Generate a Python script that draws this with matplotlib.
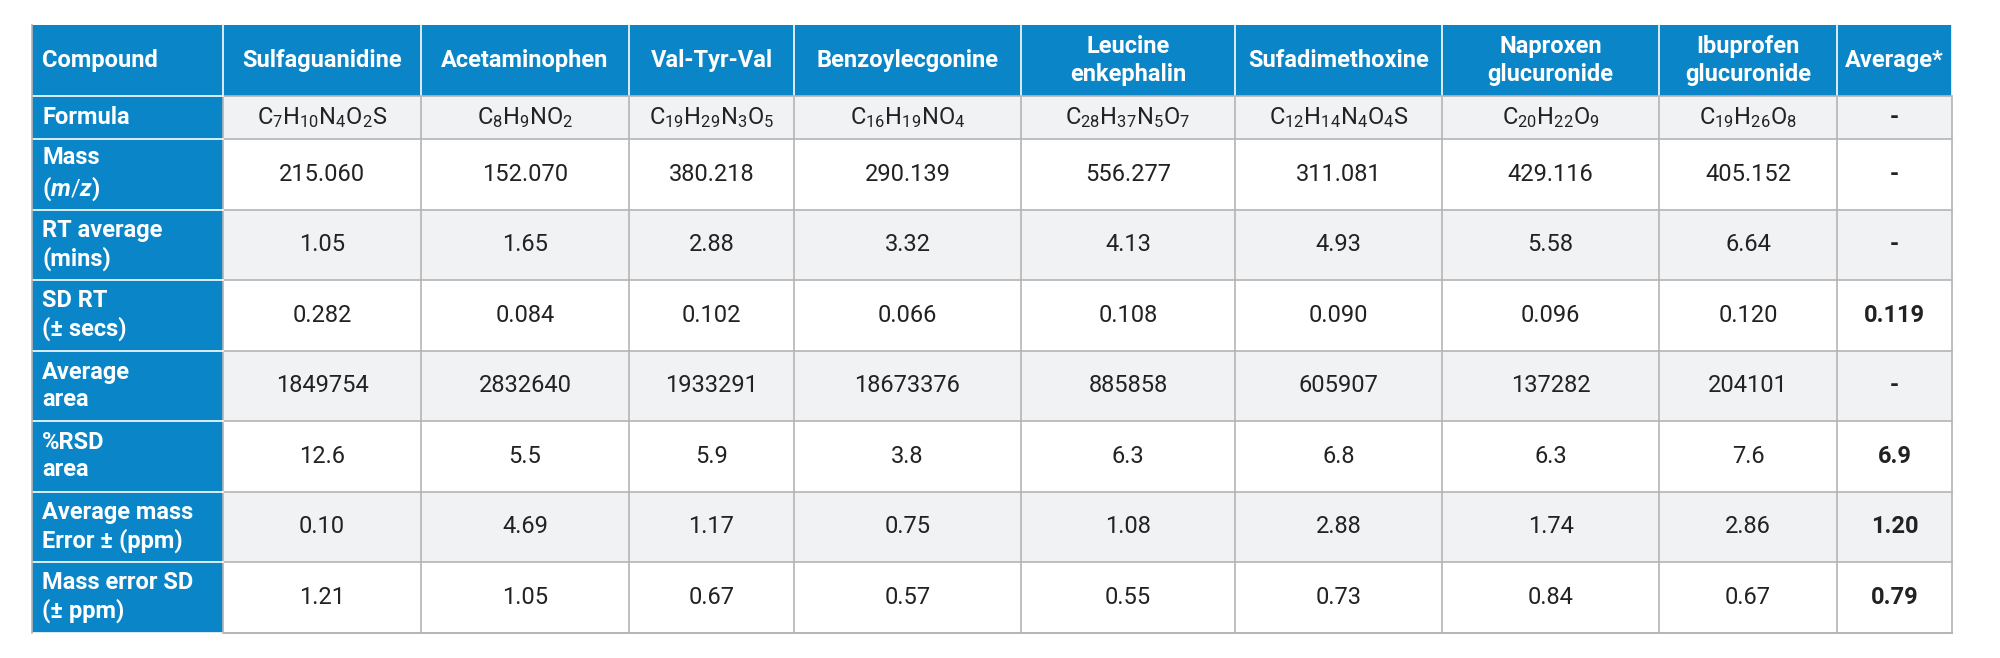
import matplotlib
matplotlib.use("Agg")
import matplotlib.pyplot as plt
from matplotlib.patches import Rectangle

plt.rcParams['font.family'] = ['Roboto', 'DejaVu Sans']
plt.rcParams['mathtext.fontset'] = 'custom'
plt.rcParams['mathtext.rm'] = 'Roboto'
plt.rcParams['mathtext.it'] = 'Roboto:italic:bold'

# Table data
compounds = ["Sulfaguanidine", "Acetaminophen", "Val-Tyr-Val", "Benzoylecgonine",
             "Leucine\nenkephalin", "Sufadimethoxine", "Naproxen\nglucuronide",
             "Ibuprofen\nglucuronide"]
row_labels = ["Formula", "Mass\n($\\mathit{m/z}$)", "RT average\n(mins)", "SD RT\n(± secs)",
              "Average\narea", "%RSD\narea", "Average mass\nError ± (ppm)",
              "Mass error SD\n(± ppm)"]
formulas = ["C_7H_{10}N_4O_2S", "C_8H_9NO_2", "C_{19}H_{29}N_3O_5", "C_{16}H_{19}NO_4",
            "C_{28}H_{37}N_5O_7", "C_{12}H_{14}N_4O_4S", "C_{20}H_{22}O_9", "C_{19}H_{26}O_8"]
mass = ["215.060", "152.070", "380.218", "290.139", "556.277", "311.081", "429.116", "405.152"]
rt_avg = ["1.05", "1.65", "2.88", "3.32", "4.13", "4.93", "5.58", "6.64"]
sd_rt = ["0.282", "0.084", "0.102", "0.066", "0.108", "0.090", "0.096", "0.120"]
avg_area = ["1849754", "2832640", "1933291", "18673376", "885858", "605907", "137282", "204101"]
rsd_area = ["12.6", "5.5", "5.9", "3.8", "6.3", "6.8", "6.3", "7.6"]
mass_err = ["0.10", "4.69", "1.17", "0.75", "1.08", "2.88", "1.74", "2.86"]
mass_err_sd = ["1.21", "1.05", "0.67", "0.57", "0.55", "0.73", "0.84", "0.67"]
averages = ["-", "-", "-", "0.119", "-", "6.9", "1.20", "0.79"]

rows = [["$\\mathregular{%s}$" % f for f in formulas], mass, rt_avg, sd_rt,
        avg_area, rsd_area, mass_err, mass_err_sd]

BLUE = "#0a86c8"
GRAY = "#f1f2f4"
LINE = "#b4b4b4"

col_x = [32, 223, 421, 629, 794, 1021, 1235, 1442, 1659, 1837, 1952]
row_h = [71, 43] + [70.5] * 7
row_y = [25]
for h in row_h:
    row_y.append(row_y[-1] + h)

fig = plt.figure(figsize=(20, 6.58), dpi=100)
ax = fig.add_axes([0, 0, 1, 1])
ax.set_xlim(0, 2000)
ax.set_ylim(658, 0)
ax.axis("off")

FS = 17

def cell(c, r, text, bg, color="#222222", weight="normal", ha="center"):
    x0, x1 = col_x[c], col_x[c + 1]
    y0, y1 = row_y[r], row_y[r + 1]
    ax.add_patch(Rectangle((x0, y0), x1 - x0, y1 - y0, facecolor=bg, edgecolor="none"))
    tx = x0 + 10 if ha == "left" else (x0 + x1) / 2
    ax.text(tx, (y0 + y1) / 2, text, ha=ha, va="center", fontsize=FS, color=color,
            fontweight=weight, linespacing=1.25)

# header
cell(0, 0, "Compound", BLUE, "white", "bold", "left")
for j, name in enumerate(compounds):
    cell(j + 1, 0, name, BLUE, "white", "bold")
cell(9, 0, "Average*", BLUE, "white", "bold")

for i, lab in enumerate(row_labels):
    r = i + 1
    bg = GRAY if i % 2 == 0 else "white"
    cell(0, r, lab, BLUE, "white", "bold", "left")
    for j, v in enumerate(rows[i]):
        cell(j + 1, r, v, bg)
    cell(9, r, averages[i], bg, weight="bold")

# grid lines
for c in range(1, len(col_x)):
    ax.plot([col_x[c], col_x[c]], [row_y[1], row_y[-1]], color=LINE, lw=1.2)
    ax.plot([col_x[c], col_x[c]], [row_y[0], row_y[1]], color="white", lw=1.2)
for r in range(1, len(row_y)):
    ax.plot([col_x[1], col_x[-1]], [row_y[r], row_y[r]], color=LINE, lw=1.2)
    ax.plot([col_x[0], col_x[1]], [row_y[r], row_y[r]], color="white", lw=1.2)
ax.plot([col_x[0], col_x[0]], [row_y[0], row_y[-1]], color=LINE, lw=1.2)
ax.plot([col_x[1], col_x[-1]], [row_y[-1], row_y[-1]], color=LINE, lw=1.2)

fig.savefig("out.png", dpi=100)
